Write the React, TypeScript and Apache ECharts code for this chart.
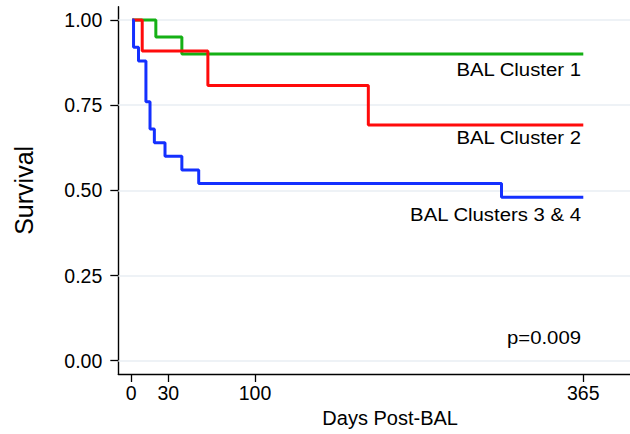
import React, { useEffect, useRef } from "react";
import * as echarts from "echarts";

const greenDays = [1, 20, 41, 365];
const greenSurv = [1, 0.95, 0.9, 0.9];
const redDays = [1, 9, 62, 191.5, 365];
const redSurv = [1, 0.909, 0.808, 0.692, 0.692];
const blueDays = [1, 2, 6, 12, 15.3, 18.8, 27.4, 41, 54.6, 299, 365];
const blueSurv = [1, 0.92, 0.88, 0.76, 0.68, 0.64, 0.6, 0.56, 0.52, 0.48, 0.48];
const xTicks = [0, 30, 100, 365];
const yTicks = [0, 0.25, 0.5, 0.75, 1];
const seriesNames = ["BAL Cluster 1", "BAL Cluster 2", "BAL Clusters 3 & 4"];
const pValue = "p=0.009";

const FONT = "'Liberation Sans', Arial, Helvetica, sans-serif";

function zip(xs: number[], ys: number[]) {
  return xs.map((x, i) => [x, ys[i]]);
}

export default function App() {
  const ref = useRef<HTMLDivElement>(null);
  useEffect(() => {
    document.body.style.margin = "0";
    const chart = echarts.init(ref.current!, null, { renderer: "svg" });
    const lineSeries = (name: string, data: number[][], color: string, extra: any = {}) => ({
      type: "line",
      name,
      step: "end",
      data,
      symbol: "none",
      lineStyle: { color, width: 3 },
      itemStyle: { color },
      z: 3,
      ...extra,
    });
    const labelText = (text: string, y: number) => ({
      type: "text",
      x: 581,
      y,
      scaleX: 1.13,
      z: 10,
      style: {
        text,
        fontSize: 18,
        fontFamily: FONT,
        fill: "#000",
        align: "right",
        verticalAlign: "middle",
        textAlign: "right",
        textVerticalAlign: "middle",
      },
    });
    chart.setOption({
      animation: false,
      backgroundColor: "#fff",
      grid: { left: 118.3, right: 0, top: 6.7, bottom: 60, containLabel: false },
      xAxis: {
        type: "value",
        min: -10.3,
        max: 402.7,
        name: "Days Post-BAL",
        nameLocation: "middle",
        nameGap: 30,
        nameTextStyle: { fontSize: 20, fontFamily: FONT, color: "#000", padding: [0, 0, 0, 32] },
        axisLine: { show: true, onZero: false, lineStyle: { color: "#000", width: 1.4 } },
        axisTick: { show: true, length: 8, customValues: xTicks, lineStyle: { color: "#000", width: 1.3 } },
        axisLabel: { customValues: xTicks, fontSize: 19.5, fontFamily: FONT, color: "#000", margin: 9 },
        splitLine: { show: false },
      },
      yAxis: {
        type: "value",
        min: -0.039,
        max: 1.039,
        name: "Survival",
        nameLocation: "middle",
        nameGap: 82,
        nameTextStyle: { fontSize: 25, fontFamily: FONT, color: "#000" },
        axisLine: { show: true, onZero: false, lineStyle: { color: "#000", width: 1.4 } },
        axisTick: { show: true, length: 8, customValues: yTicks, lineStyle: { color: "#000", width: 1.3 } },
        axisLabel: {
          customValues: yTicks,
          fontSize: 19.5,
          fontFamily: FONT,
          color: "#000",
          margin: 16,
          formatter: (v: number) => v.toFixed(2),
        },
        splitLine: { show: false },
      },
      series: [
        lineSeries(seriesNames[0], zip(greenDays, greenSurv), "#15b015", {
          markLine: {
            silent: true,
            symbol: "none",
            label: { show: false },
            lineStyle: { color: "#e9eef3", width: 1.5, type: "solid" },
            data: yTicks.map((v) => ({ yAxis: v })),
            z: 1,
          },
        }),
        lineSeries(seriesNames[1], zip(redDays, redSurv), "#ff0b0b"),
        lineSeries(seriesNames[2], zip(blueDays, blueSurv), "#1430ff"),
      ],
      graphic: [
        labelText(seriesNames[0], 69.7),
        labelText(seriesNames[1], 137.5),
        labelText(seriesNames[2], 214.5),
        labelText(pValue, 338.4),
      ],
    });
    return () => chart.dispose();
  }, []);
  return <div ref={ref} style={{ width: 630, height: 434 }} />;
}
